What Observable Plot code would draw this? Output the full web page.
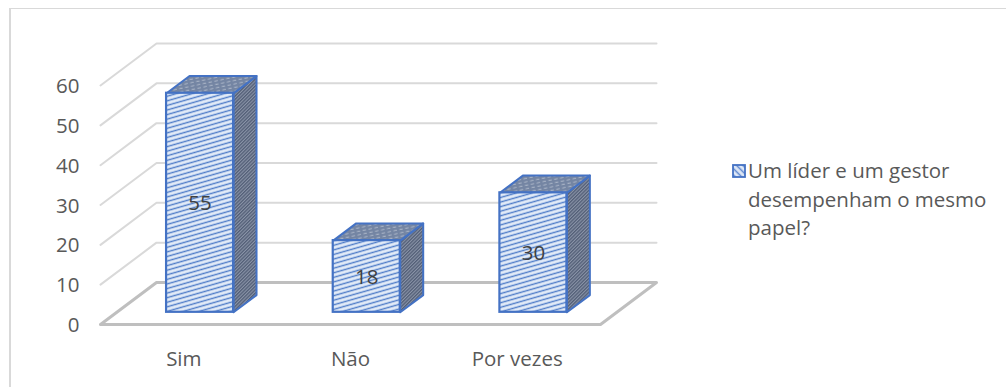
<!DOCTYPE html>
<html lang="pt">
<head>
<meta charset="utf-8">
<script src="https://cdn.jsdelivr.net/npm/d3@7"></script>
<script src="https://cdn.jsdelivr.net/npm/@observablehq/plot@0.6"></script>
<style>
  html, body { margin: 0; background: #fff; }
  #frame { position: relative; width: 1006px; height: 387px; overflow: hidden; }
  #frame::before { content: ""; position: absolute; left: 9px; top: 8px; width: 1100px; height: 500px; border: 1px solid #d9d9d9; border-left-width: 2px; }
  #chart { position: absolute; left: 0; top: 0; }
  #legend { position: absolute; left: 730px; top: 156px; width: 270px; font: 20.5px/28.5px "Open Sans", sans-serif; color: #595959; }
  #legend svg { position: absolute; left: 2px; top: 8px; }
  #legend div { margin-left: 18px; }
</style>
</head>
<body>
<div id="frame">
  <div id="chart"></div>
  <div id="legend">
    <svg width="14" height="14"><rect x="1" y="1" width="12" height="12" fill="url(#hatch-key)" stroke="#4472c4" stroke-width="1.8"/></svg>
    <div>Um líder e um gestor desempenham o mesmo papel?</div>
  </div>
</div>
<script>
const categories = ["Sim", "Não", "Por vezes"];
const values = [55, 18, 30];
const yTicks = [0, 10, 20, 30, 40, 50, 60];

// Floor depth expressed in scale units (slots on x, value units on y).
const depthX = 0.336;
const depthY = 10.55;
// Where a bar sits inside the floor depth, and how wide it is within its slot.
const barNear = 0.29;
const barFar = 0.70;
const barWidth = 0.402;

const bars = categories.map((name, i) => ({name, value: values[i], slot: i}));
const left = d => d.slot + 0.5 - barWidth / 2;
const right = d => d.slot + 0.5 + barWidth / 2;

// Oblique projection of (slot, value, depth) to x and y scale values.
const px = (x, depth) => x + depth * depthX;
const py = (y, depth) => y + depth * depthY;

const sidePts = bars.flatMap(d => [
  {k: d.name, x: px(right(d), barNear), y: py(0, barNear)},
  {k: d.name, x: px(right(d), barFar), y: py(0, barFar)},
  {k: d.name, x: px(right(d), barFar), y: py(d.value, barFar)},
  {k: d.name, x: px(right(d), barNear), y: py(d.value, barNear)},
  {k: d.name, x: px(right(d), barNear), y: py(0, barNear)}
]);
const topPts = bars.flatMap(d => [
  {k: d.name, x: px(left(d), barNear), y: py(d.value, barNear)},
  {k: d.name, x: px(left(d), barFar), y: py(d.value, barFar)},
  {k: d.name, x: px(right(d), barFar), y: py(d.value, barFar)},
  {k: d.name, x: px(right(d), barNear), y: py(d.value, barNear)},
  {k: d.name, x: px(left(d), barNear), y: py(d.value, barNear)}
]);
const gridPts = yTicks.slice(1).flatMap(v => [
  {k: v, x: 0, y: v},
  {k: v, x: px(0, 1), y: py(v, 1)},
  {k: v, x: px(3, 1), y: py(v, 1)}
]);
const floorPts = [
  {x: 0, y: 0},
  {x: px(0, 1), y: py(0, 1)},
  {x: px(3, 1), y: py(0, 1)},
  {x: 3, y: 0},
  {x: 0, y: 0}
];

// Shared hatch definitions for the three visible faces of each column and the key.
const patterns = () => {
  const defs = d3.create("svg:defs");
  const front = defs.append("pattern").attr("id", "hatch-front").attr("patternUnits", "userSpaceOnUse")
    .attr("width", 24).attr("height", 4.4).attr("patternTransform", "rotate(-16)");
  front.append("rect").attr("width", 24).attr("height", 4.4).attr("fill", "#e2ebf8");
  front.append("rect").attr("y", 1.5).attr("width", 24).attr("height", 1.4).attr("fill", "#4f7cc8");

  const side = defs.append("pattern").attr("id", "hatch-side").attr("patternUnits", "userSpaceOnUse")
    .attr("width", 2.4).attr("height", 2.4).attr("patternTransform", "rotate(45)");
  side.append("rect").attr("width", 2.4).attr("height", 2.4).attr("fill", "#8a94a8");
  side.append("rect").attr("width", 1.3).attr("height", 2.4).attr("fill", "#525e76");

  const top = defs.append("pattern").attr("id", "hatch-top").attr("patternUnits", "userSpaceOnUse")
    .attr("width", 6).attr("height", 3.4).attr("patternTransform", "rotate(-12)");
  top.append("rect").attr("width", 6).attr("height", 3.4).attr("fill", "#7485a3");
  top.append("rect").attr("x", 0.5).attr("y", 0.6).attr("width", 3.4).attr("height", 1).attr("fill", "#adb7c9");

  const key = defs.append("pattern").attr("id", "hatch-key").attr("patternUnits", "userSpaceOnUse")
    .attr("width", 4.5).attr("height", 4.5).attr("patternTransform", "rotate(45)");
  key.append("rect").attr("width", 4.5).attr("height", 4.5).attr("fill", "#dfe8f6");
  key.append("rect").attr("y", 1.5).attr("width", 4.5).attr("height", 1.5).attr("fill", "#5f88cf");
  return defs.node();
};

const plot = Plot.plot({
  width: 1006,
  height: 387,
  marginLeft: 100,
  marginRight: 350,
  marginTop: 43,
  marginBottom: 63,
  style: {background: "transparent", fontFamily: "'Open Sans', sans-serif"},
  x: {domain: [0, 3 + depthX], axis: null},
  y: {domain: [0, 60 + depthY], axis: null},
  marks: [
    patterns,
    Plot.line(gridPts, {x: "x", y: "y", z: "k", stroke: "#d9d9d9", strokeWidth: 2, curve: "linear"}),
    Plot.line(floorPts, {x: "x", y: "y", stroke: "#bfbfbf", strokeWidth: 3, curve: "linear"}),
    Plot.line(sidePts, {x: "x", y: "y", z: "k", fill: "url(#hatch-side)", stroke: "#4472c4", strokeWidth: 2, strokeLinejoin: "round"}),
    Plot.line(topPts, {x: "x", y: "y", z: "k", fill: "url(#hatch-top)", stroke: "#4472c4", strokeWidth: 2, strokeLinejoin: "round"}),
    Plot.rect(bars, {
      x1: d => px(left(d), barNear),
      x2: d => px(right(d), barNear),
      y1: () => py(0, barNear),
      y2: d => py(d.value, barNear),
      fill: "url(#hatch-front)", stroke: "#4472c4", strokeWidth: 2.2
    }),
    Plot.text(bars, {
      x: d => px(d.slot + 0.5, barNear),
      y: d => py(d.value / 2, barNear),
      text: d => String(d.value),
      dy: 1, fontSize: 20.5, fill: "#404040"
    }),
    Plot.text(yTicks, {
      x: () => 0, y: d => d, text: d => String(d),
      textAnchor: "end", dx: -21, dy: 1, fontSize: 20.5, fill: "#595959"
    }),
    Plot.text(bars, {
      x: d => d.slot + 0.5, y: () => 0, text: "name",
      dy: 35, fontSize: 20.5, fill: "#595959"
    })
  ]
});
document.getElementById("chart").append(plot);
</script>
</body>
</html>
